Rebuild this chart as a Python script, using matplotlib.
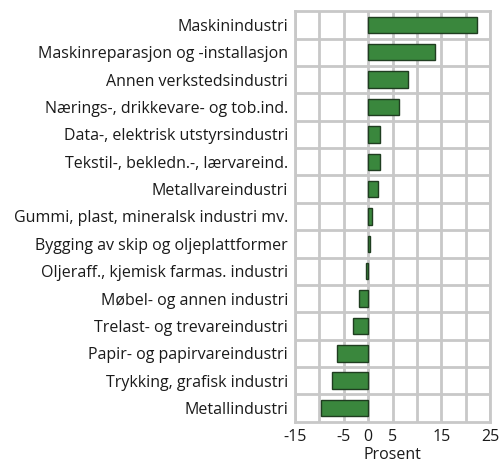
import matplotlib.pyplot as plt

categories = [
    "Maskinindustri",
    "Maskinreparasjon og -installasjon",
    "Annen verkstedsindustri",
    "Nærings-, drikkevare- og tob.ind.",
    "Data-, elektrisk utstyrsindustri",
    "Tekstil-, bekledn.-, lærvareind.",
    "Metallvareindustri",
    "Gummi, plast, mineralsk industri mv.",
    "Bygging av skip og oljeplattformer",
    "Oljeraff., kjemisk farmas. industri",
    "Møbel- og annen industri",
    "Trelast- og trevareindustri",
    "Papir- og papirvareindustri",
    "Trykking, grafisk industri",
    "Metallindustri",
]
values = [22.4, 13.7, 8.1, 6.4, 2.5, 2.4, 2.1, 0.7, 0.4, -0.4, -1.8, -3.1, -6.4, -7.5, -9.7]
tick_values = [-15, -5, 0, 5, 15, 25]
grid_x = [-15, -10, -5, 0, 5, 10, 15, 20, 25]

plt.rcParams['font.family'] = ['Open Sans', 'DejaVu Sans']

fig = plt.figure(figsize=(5, 4.66), dpi=100)
ax = fig.add_axes([0.59, 0.095, 0.39, 0.881])

grid_col = '#c8c8c8'
txt_col = '#1a1a1a'
pos = list(range(len(categories)))
ax.barh(pos, values, height=0.6, color='#3a873d', edgecolor='#1f3d20', linewidth=1, zorder=3)

# grid lines drawn by hand so none get dropped
for gx in grid_x:
    ax.axvline(gx, color=grid_col, linewidth=2, zorder=0)
for p in pos[:-1]:
    ax.axhline(p + 0.5, color=grid_col, linewidth=2, zorder=0)

ax.set_ylim(len(categories) - 0.5, -0.5)
ax.set_xlim(-15, 25)
ax.set_yticks(pos)
ax.set_yticklabels(categories, fontsize=11.5, color=txt_col)
ax.set_xticks(tick_values)
ax.set_xticklabels([str(v) for v in tick_values], fontsize=11.5, color=txt_col)
ax.tick_params(which='both', length=0)
ax.tick_params(axis='y', pad=5)
ax.tick_params(axis='x', pad=5)
for s in ax.spines.values():
    s.set_color(grid_col)
    s.set_linewidth(2)
ax.set_xlabel("Prosent", fontsize=11.5, color=txt_col, labelpad=2)

fig.savefig("out.png", dpi=100)
